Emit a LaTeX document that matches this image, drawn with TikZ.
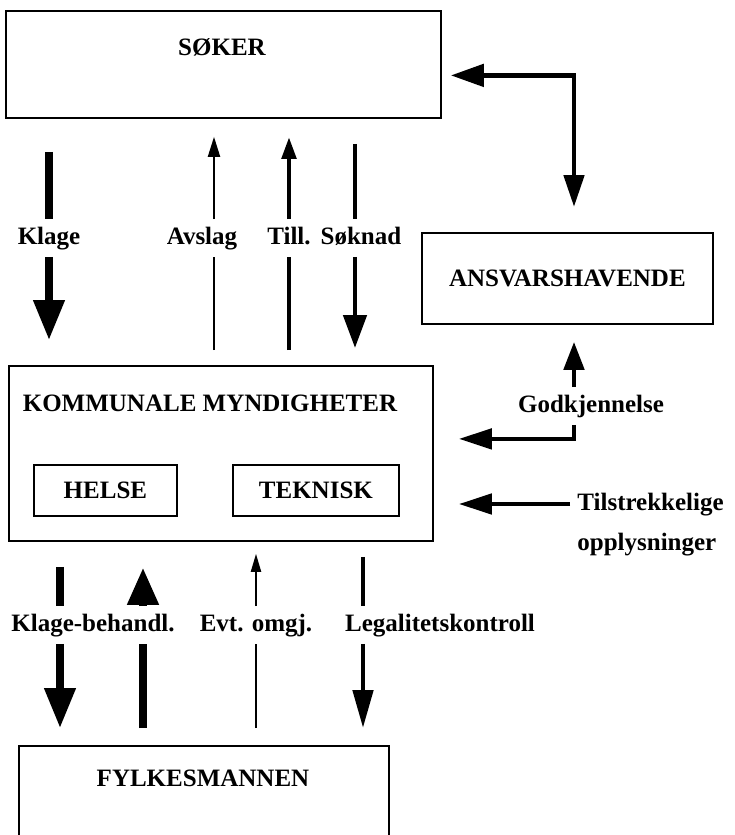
\documentclass[tikz,border=0pt]{standalone}
\usepackage{fontspec}
\setmainfont{Liberation Serif}
\usetikzlibrary{arrows.meta, positioning}

\begin{document}
\begin{tikzpicture}[x=0.5pt, y=-0.5pt,
  box/.style={draw, line width=0.9pt, anchor=north west, inner sep=0pt, font=\fontsize{12.5}{15}\selectfont\bfseries},
  boxtitle/.style={font=\fontsize{12.5}{15}\selectfont\bfseries},
  flowlabel/.style={font=\fontsize{12.5}{20}\selectfont\bfseries, text height=8.7pt, text depth=2.7pt, inner sep=3.5pt},
  hairline/.style={line width=1pt},
  medline/.style={line width=2.4pt},
  heavyline/.style={line width=3.8pt},
  tiphead/.style args={#1/#2}{-{Triangle[length=#1, width=#2]}},
]
\useasboundingbox (0,0) rectangle (734,835);

% Boxes
\node[box, minimum width=217.5pt, minimum height=53.5pt] (soker) at (5,10) {};
\node[boxtitle] (sokertxt) at (222,47) {SØKER};
\node[box, minimum width=145.5pt, minimum height=45.5pt] (ansvar) at (421,232) {ANSVARSHAVENDE};
\node[box, minimum width=212pt, minimum height=87.5pt] (komm) at (8,365) {};
\node[boxtitle] (kommtxt) at (210,403) {KOMMUNALE MYNDIGHETER};
\node[box, minimum width=71.5pt, minimum height=25.5pt] (helse) at (33,464) {HELSE};
\node[box, minimum width=83pt, minimum height=25.5pt] (teknisk) at (232,464) {TEKNISK};
\node[box, minimum width=185pt, minimum height=55pt] (fylkes) at (18,745) {};
\node[boxtitle] (fylkestxt) at (203,778) {FYLKESMANNEN};

% Arrow columns
\coordinate (avslagx) at (214,0);
\coordinate (soknadx) at (355,0);
\coordinate (godkx) at (574,0);
\coordinate (klbehdown) at (60,0);
\coordinate (klbehup) at (143,0);
\coordinate (legx) at (363,0);

% Upper labels
\node[flowlabel] (klage) at (49,238) {Klage};
\node[flowlabel] (avslag) at (202,238) {Avslag};
\node[flowlabel] (till) at (289,238) {Till.};
\node[flowlabel] (soknad) at (361,238) {Søknad};

% Upper arrows
\draw[heavyline, shorten <=16.5pt] (soker.south -| klage) -- (klage.north);
\draw[heavyline, tiphead=20pt/15pt, shorten >=12.5pt] (klage.south) -- (klage.south |- komm.north);
\draw[hairline, shorten <=7.5pt] (komm.north -| avslagx) -- (avslag.south -| avslagx);
\draw[hairline, tiphead=10pt/6pt, shorten >=9pt] (avslag.north -| avslagx) -- (soker.south -| avslagx);
\draw[medline, shorten <=7.5pt] (komm.north -| till) -- (till.south);
\draw[medline, tiphead=11pt/7pt, shorten >=9pt] (till.north) -- (till.north |- soker.south);
\draw[medline, shorten <=12.5pt] (soker.south -| soknadx) -- (soknad.north -| soknadx);
\draw[medline, tiphead=16.5pt/11.5pt, shorten >=8.5pt] (soknad.south -| soknadx) -- (komm.north -| soknadx);

% Right side
\draw[medline, {Triangle[length=16.5pt, width=11pt]}-{Triangle[length=16pt, width=10pt]}, shorten <=4.5pt, shorten >=12.5pt]
  ([yshift=-5.5pt]soker.east) -| (ansvar.north -| godkx);
\node[flowlabel] (godk) at (591,406) {Godkjennelse};
\draw[medline, tiphead=14pt/10pt, shorten >=8.5pt] (godk.north -| godkx) -- (ansvar.south -| godkx);
\draw[medline, tiphead=16.5pt/10pt, shorten >=12.5pt] (godk.south -| godkx) |- ([yshift=7.25pt]komm.east);
\node[font=\fontsize{12.5}{20}\selectfont\bfseries, align=left, anchor=north west, inner sep=3.5pt] (tilstr) at (570,486) {Tilstrekkelige\\opplysninger};
\coordinate (tilsty) at ([yshift=-9pt]tilstr.north west);
\draw[medline, tiphead=16.5pt/10pt, shorten >=12.5pt] (tilsty) -- (tilsty -| komm.east);

% Lower labels
\node[flowlabel] (klbeh) at (93,625) {Klage-behandl.};
\node[flowlabel] (evt) at (256,625) {Evt. omgj.};
\node[flowlabel] (legal) at (440,625) {Legalitetskontroll};

% Lower arrows
\draw[heavyline, shorten <=12.5pt] (komm.south -| klbehdown) -- (klbeh.north -| klbehdown);
\draw[heavyline, tiphead=20pt/15pt, shorten >=8.5pt] (klbeh.south -| klbehdown) -- (fylkes.north -| klbehdown);
\draw[heavyline, shorten <=8.5pt] (fylkes.north -| klbehup) -- (klbeh.south -| klbehup);
\draw[heavyline, tiphead=18.5pt/15pt, shorten >=13pt] (klbeh.north -| klbehup) -- (komm.south -| klbehup);
\draw[hairline, shorten <=8.5pt] (fylkes.north -| evt) -- (evt.south);
\draw[hairline, tiphead=9pt/5pt, shorten >=6pt] (evt.north) -- (evt.north |- komm.south);
\draw[medline, shorten <=7.5pt] (komm.south -| legx) -- (legal.north -| legx);
\draw[medline, tiphead=19pt/10pt, shorten >=8.5pt] (legal.south -| legx) -- (fylkes.north -| legx);

\end{tikzpicture}
\end{document}
